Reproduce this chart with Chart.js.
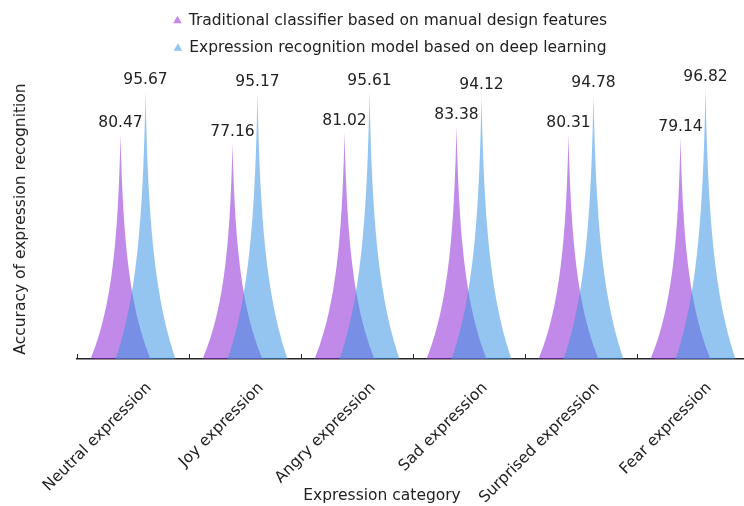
<!DOCTYPE html>
<html>
<head>
<meta charset="utf-8">
<script src="https://cdn.jsdelivr.net/npm/chart.js@4/dist/chart.umd.min.js"></script>
<style>
  html, body { margin: 0; padding: 0; overflow: hidden; background: #fff; }
</style>
</head>
<body>
<canvas id="c" width="750" height="506"></canvas>
<script>
const categories = ['Neutral expression', 'Joy expression', 'Angry expression', 'Sad expression', 'Surprised expression', 'Fear expression'];
const traditionalAcc = [80.47, 77.16, 81.02, 83.38, 80.31, 79.14];
const deepLearningAcc = [95.67, 95.17, 95.61, 94.12, 94.78, 96.82];
const seriesNames = ['Traditional classifier based on manual design features', 'Expression recognition model based on deep learning'];
const axisTitles = { x: 'Expression category', y: 'Accuracy of expression recognition' };

const FONT = "'DejaVu Sans', Verdana, sans-serif";
const FONT_SIZE = 15.5;
const TEXT = '#222';

// Peaked outline: concave sides that narrow quickly towards the value
function drawPeak(ctx, cx, top, base, w) {
  const hw = w / 2, h = base - top, k = 2.9, e = Math.exp(-k), N = 60;
  const half = t => hw * (Math.exp(-k * t) - e) / (1 - e);
  ctx.beginPath();
  for (let i = 0; i <= N; i++) {
    const t = i / N;
    ctx.lineTo(cx - half(t), base - h * t);
  }
  for (let i = N; i >= 0; i--) {
    const t = i / N;
    ctx.lineTo(cx + half(t), base - h * t);
  }
  ctx.closePath();
  ctx.fill();
}

// Draw every series as peaks, first series at the back
const peakShapes = {
  id: 'peakShapes',
  beforeDatasetsDraw(chart) {
    const ctx = chart.ctx;
    chart.data.datasets.forEach((ds, i) => {
      ctx.save();
      ctx.fillStyle = ds.backgroundColor;
      chart.getDatasetMeta(i).data.forEach(bar => {
        const p = bar.getProps(['x', 'y', 'base', 'width'], true);
        drawPeak(ctx, p.x, p.y, p.base, p.width * 2.4);
      });
      ctx.restore();
    });
  },
  beforeDatasetDraw() {
    return false;
  }
};

const valueLabels = {
  id: 'valueLabels',
  afterDatasetsDraw(chart) {
    const ctx = chart.ctx;
    ctx.save();
    ctx.font = FONT_SIZE + 'px ' + FONT;
    ctx.fillStyle = TEXT;
    ctx.textAlign = 'center';
    ctx.textBaseline = 'bottom';
    chart.data.datasets.forEach((ds, i) => {
      chart.getDatasetMeta(i).data.forEach((bar, j) => {
        const p = bar.getProps(['x', 'y'], true);
        ctx.fillText(ds.data[j].toFixed(2), p.x, p.y - 3);
      });
    });
    ctx.restore();
  }
};

// Short inward marks at category boundaries, plus the x-axis title
const axisExtras = {
  id: 'axisExtras',
  afterDraw(chart) {
    const ctx = chart.ctx;
    const xs = chart.scales.x;
    const n = categories.length;
    const step = (xs.right - xs.left) / n;
    ctx.save();
    ctx.strokeStyle = '#222';
    ctx.lineWidth = 1;
    ctx.beginPath();
    for (let i = 0; i <= n; i++) {
      const x = Math.round(xs.left + i * step) + 0.5;
      ctx.moveTo(x, xs.top);
      ctx.lineTo(x, xs.top - 5);
    }
    ctx.stroke();
    ctx.font = FONT_SIZE + 'px ' + FONT;
    ctx.fillStyle = TEXT;
    ctx.textAlign = 'center';
    ctx.textBaseline = 'middle';
    ctx.fillText(axisTitles.x, chart.width / 2 + 7, chart.height - 10);
    ctx.restore();
  }
};

const legendSpacing = {
  id: 'legendSpacing',
  beforeInit(chart) {
    const fit = chart.legend.fit;
    chart.legend.fit = function () {
      fit.call(this);
      this.height += 13;
    };
  },
  afterLayout(chart) {
    chart.legend.left += 12;
    chart.legend.right += 12;
  }
};

new Chart(document.getElementById('c'), {
  type: 'bar',
  data: {
    labels: categories,
    datasets: [
      { label: seriesNames[0], data: traditionalAcc, backgroundColor: 'rgba(142,42,213,0.55)' },
      { label: seriesNames[1], data: deepLearningAcc, backgroundColor: 'rgba(60,148,228,0.55)' }
    ]
  },
  options: {
    responsive: false,
    animation: false,
    layout: { padding: { left: 8, right: 1, top: 1, bottom: 0 } },
    datasets: { bar: { categoryPercentage: 50 / 112, barPercentage: 1 } },
    plugins: {
      legend: {
        position: 'top',
        labels: {
          usePointStyle: true,
          pointStyle: 'triangle',
          boxWidth: 7,
          boxHeight: 7,
          padding: 12,
          color: TEXT,
          font: { family: FONT, size: FONT_SIZE }
        }
      },
      tooltip: { enabled: false }
    },
    scales: {
      x: {
        grid: { display: false, drawTicks: false },
        border: { display: true, color: '#222', width: 1.5 },
        ticks: {
          color: TEXT,
          font: { family: FONT, size: FONT_SIZE },
          minRotation: 45,
          maxRotation: 45,
          autoSkip: false,
          padding: 20,
          labelOffset: 16
        },
        afterFit(scale) { scale.height = 147; }
      },
      y: {
        min: 0,
        max: 100,
        grid: { display: false, drawTicks: false },
        border: { display: false },
        ticks: { display: false },
        title: {
          display: true,
          text: axisTitles.y,
          color: TEXT,
          font: { family: FONT, size: FONT_SIZE }
        },
        afterFit(scale) { scale.width = 69; }
      }
    }
  },
  plugins: [peakShapes, valueLabels, axisExtras, legendSpacing]
});
</script>
</body>
</html>
